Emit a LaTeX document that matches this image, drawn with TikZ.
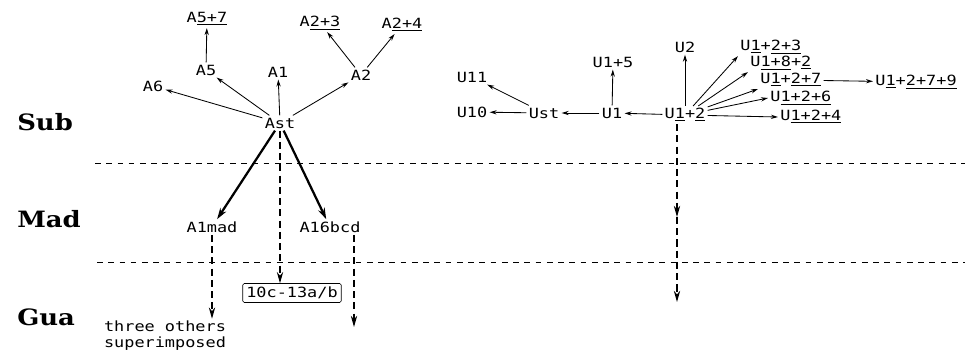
\documentclass[tikz,border=0pt]{standalone}
\usepackage{fontspec}
\newfontfamily\plotfont{DejaVu Sans Mono}[FakeStretch=1.2]
\newfontfamily\slabfont{DejaVu Serif}[FakeStretch=1.15]
\usetikzlibrary{arrows.meta}

\begin{document}
\begin{tikzpicture}[x=0.025cm, y=-0.025cm,
    lbl/.style={font=\plotfont\fontsize{10}{11.5}\selectfont, inner sep=1.5pt},
    rowname/.style={font=\slabfont\bfseries\fontsize{16}{19}\selectfont, anchor=west, inner sep=0pt},
    arr/.style={-{Stealth[length=5pt, width=3pt]}, line width=0.6pt},
    fatarr/.style={-{Stealth[length=8pt, width=5pt]}, line width=1.6pt},
    dasharr/.style={-{Stealth[length=8pt, width=4.5pt]}, line width=0.8pt, dash pattern=on 5pt off 3pt},
    level/.style={line width=0.7pt, dash pattern=on 4pt off 4pt}]

    \useasboundingbox (0,0) rectangle (969,352);

    % row names and level lines
    \node[rowname] (sub) at (17,122) {Sub};
    \node[rowname] (mad) at (17,219) {Mad};
    \node[rowname] (gua) at (17,317) {Gua};
    \draw[level] (95,163) -- (965,163);
    \draw[level] (97,262) -- (965,262);

    % A tree
    \node[lbl] (ast) at (280,123) {Ast};
    \node[lbl] (a6) at (153,86) {A6};
    \node[lbl] (a5) at (206,70) {A5};
    \node[lbl] (a57) at (207,19) {A\underline{5+7}};
    \node[lbl] (a1) at (278,72) {A1};
    \node[lbl] (a2) at (361,75) {A2};
    \node[lbl] (a23) at (320,23) {A\underline{2+3}};
    \node[lbl] (a24) at (402,25) {A\underline{2+4}};
    \node[lbl] (a1mad) at (212,227) {A1mad};
    \node[lbl] (a16bcd) at (330,227) {A16bcd};
    \node[lbl, draw, rounded corners=1pt, inner sep=2.5pt] (tenc) at (292,293) {10c-13a/b};
    \node[lbl, align=left] (others) at (165,336) {three others\\superimposed};
    \coordinate (a16end) at (354,327);

    \foreach \t in {a6,a5,a1,a2}
        \draw[arr] (ast) -- (\t);
    \draw[arr] (a5) -- (a57);
    \draw[arr] (a2) -- (a23);
    \draw[arr] (a2) -- (a24);
    \draw[fatarr] (ast) -- (a1mad);
    \draw[fatarr] (ast) -- (a16bcd);
    \draw[dasharr] (ast.south) -- (tenc.north -| ast.south);
    \draw[dasharr] (a1mad.south) -- (a1mad.south |- others.north);
    \draw[dasharr] (a16end |- a16bcd.south) -- (a16end);

    % U tree
    \node[lbl] (ust) at (544,113) {Ust};
    \node[lbl] (u10) at (472,112) {U10};
    \node[lbl] (u11) at (472,77) {U11};
    \node[lbl] (u1) at (612,113) {U1};
    \node[lbl] (u15) at (613,62) {U1+5};
    \node[lbl] (u12) at (685,115) {U\underline{1}+\underline{2}};
    \node[lbl] (u2) at (685,47) {U2};
    \node[lbl, anchor=west] (u123) at (738,47) {U\underline{1}+\underline{2+3}};
    \node[lbl, anchor=west] (u182) at (748,63) {U\underline{1+8}+\underline{2}};
    \node[lbl, anchor=west] (u127) at (758,80) {U\underline{1}+\underline{2+7}};
    \node[lbl, anchor=west] (u1279) at (873,82) {U\underline{1}+\underline{2+7+9}};
    \node[lbl, anchor=west] (u126) at (768,98) {U\underline{1+2+6}};
    \node[lbl, anchor=west] (u124) at (778,117) {U\underline{1+2+4}};
    \coordinate (u12mid) at (677,217);
    \coordinate (u12end) at (677,302);

    \draw[arr] (u12) -- (u1);
    \draw[arr] (u1) -- (ust);
    \draw[arr] (ust) -- (u10);
    \draw[arr] (ust) -- (u11);
    \draw[arr] (u1) -- (u15);
    \draw[arr] (u12) -- (u2);
    \draw[arr] (u12) -- (u123.south west);
    \draw[arr] (u12) -- (u182.south west);
    \draw[arr] (u12) -- (u127.south west);
    \draw[arr] (u12) -- (u126.west);
    \draw[arr] (u12) -- (u124.west);
    \draw[arr] (u127) -- (u1279);
    \draw[dasharr] (u12mid |- u12.south) -- (u12mid);
    \draw[dasharr] (u12mid) -- (u12end);
\end{tikzpicture}
\end{document}
